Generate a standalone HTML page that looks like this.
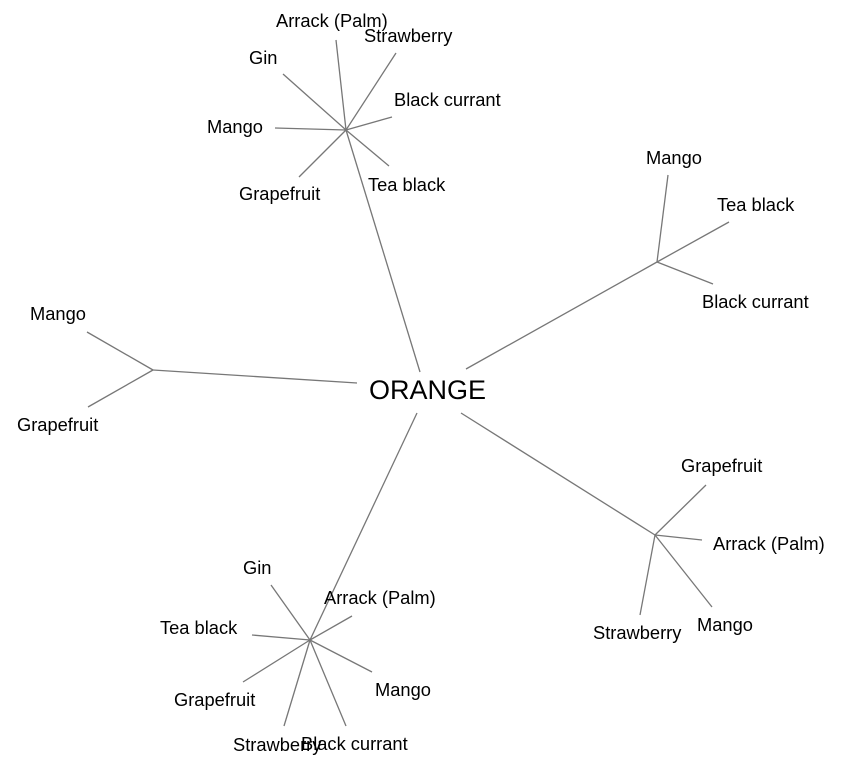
<!DOCTYPE html>
<html><head><meta charset="utf-8"><style>
html,body{margin:0;padding:0;background:#fff}
svg{display:block}
text{font-family:"Liberation Sans",Arial,sans-serif;font-size:18.3px;fill:#000}
line{stroke:#777;stroke-width:1.3}
</style></head><body>
<svg width="845" height="768" viewBox="0 0 845 768" xmlns="http://www.w3.org/2000/svg">
<g>
<line x1="420" y1="372" x2="346" y2="130"/>
<line x1="346" y1="130" x2="336" y2="40"/>
<line x1="346" y1="130" x2="396" y2="53"/>
<line x1="346" y1="130" x2="283" y2="74"/>
<line x1="346" y1="130" x2="392" y2="117"/>
<line x1="346" y1="130" x2="275" y2="128"/>
<line x1="346" y1="130" x2="389" y2="166"/>
<line x1="346" y1="130" x2="299" y2="177"/>

<line x1="466" y1="369" x2="657" y2="262"/>
<line x1="657" y1="262" x2="668" y2="175"/>
<line x1="657" y1="262" x2="729" y2="222"/>
<line x1="657" y1="262" x2="713" y2="284"/>

<line x1="357" y1="383" x2="153" y2="370"/>
<line x1="153" y1="370" x2="87" y2="332"/>
<line x1="153" y1="370" x2="88" y2="407"/>

<line x1="461" y1="413" x2="655" y2="535"/>
<line x1="655" y1="535" x2="706" y2="485"/>
<line x1="655" y1="535" x2="702" y2="540"/>
<line x1="655" y1="535" x2="712" y2="607"/>
<line x1="655" y1="535" x2="640" y2="615"/>

<line x1="417" y1="413" x2="310" y2="640"/>
<line x1="310" y1="640" x2="271" y2="585"/>
<line x1="310" y1="640" x2="352" y2="616"/>
<line x1="310" y1="640" x2="252" y2="635"/>
<line x1="310" y1="640" x2="243" y2="682"/>
<line x1="310" y1="640" x2="372" y2="672"/>
<line x1="310" y1="640" x2="284" y2="726"/>
<line x1="310" y1="640" x2="346" y2="726"/>
</g>
<text x="369" y="399" style="font-size:27px">ORANGE</text>

<text x="276" y="27">Arrack (Palm)</text>
<text x="364" y="42">Strawberry</text>
<text x="249" y="64">Gin</text>
<text x="394" y="106">Black currant</text>
<text x="207" y="133">Mango</text>
<text x="368" y="191">Tea black</text>
<text x="239" y="200">Grapefruit</text>

<text x="646" y="164">Mango</text>
<text x="717" y="211">Tea black</text>
<text x="702" y="308">Black currant</text>

<text x="30" y="320">Mango</text>
<text x="17" y="431">Grapefruit</text>

<text x="681" y="472">Grapefruit</text>
<text x="713" y="550">Arrack (Palm)</text>
<text x="593" y="639">Strawberry</text>
<text x="697" y="631">Mango</text>

<text x="243" y="574">Gin</text>
<text x="324" y="604">Arrack (Palm)</text>
<text x="160" y="634">Tea black</text>
<text x="174" y="706">Grapefruit</text>
<text x="375" y="696">Mango</text>
<text x="233" y="751">Strawberry</text>
<text x="301" y="750">Black currant</text>
</svg>
</body></html>
